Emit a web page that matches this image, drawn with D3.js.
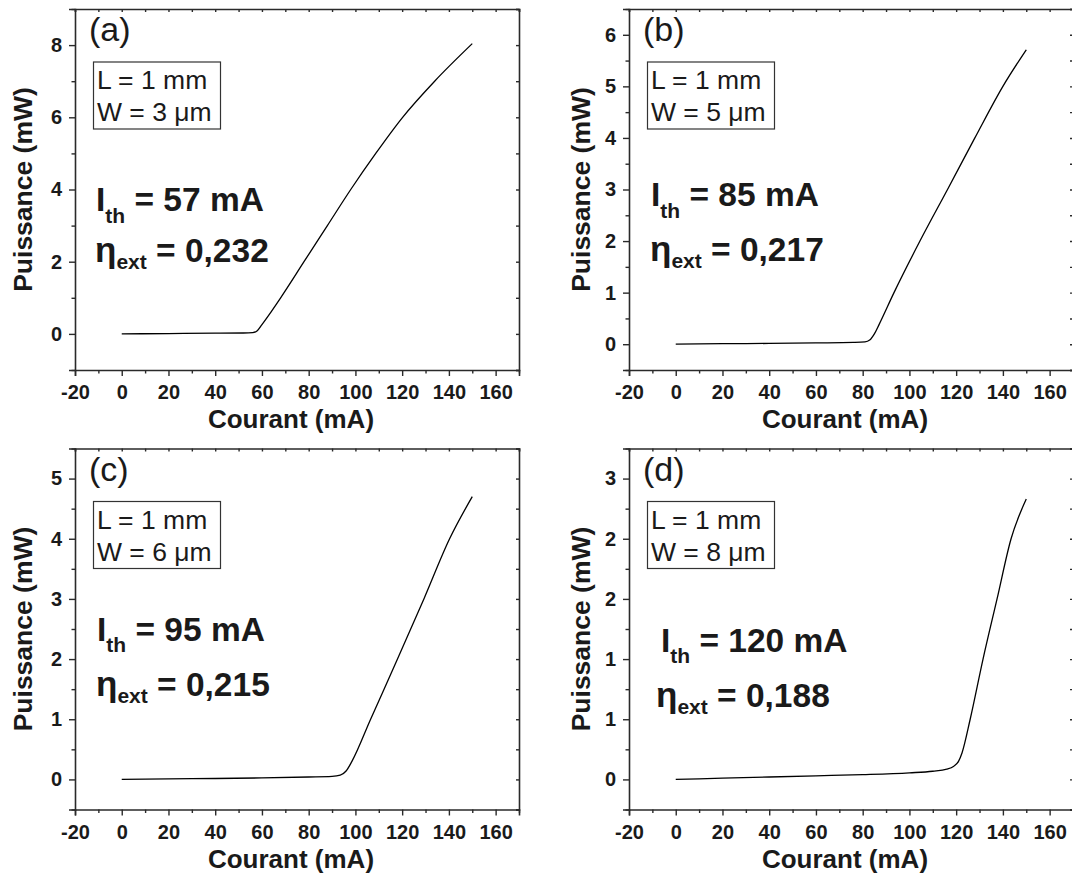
<!DOCTYPE html>
<html>
<head>
<meta charset="utf-8">
<script src="https://cdn.jsdelivr.net/npm/d3@7"></script>
<style>
  html, body { margin: 0; padding: 0; background: #fff; }
  svg { display: block; }
  text { font-family: "Liberation Sans", Arial, sans-serif; white-space: pre; }
</style>
</head>
<body>
<svg id="chart" width="1072" height="875"></svg>
<script>
// ---------------- DATA ----------------
const panelNames = ["(a)", "(b)", "(c)", "(d)"];
const boxLine1 = ["L = 1 mm", "L = 1 mm", "L = 1 mm", "L = 1 mm"];
const boxLine2 = ["W = 3 \u03BCm", "W = 5 \u03BCm", "W = 6 \u03BCm", "W = 8 \u03BCm"];
const ithText = [" = 57 mA", " = 85 mA", " = 95 mA", " = 120 mA"];
const etaText = [" = 0,232", " = 0,217", " = 0,215", " = 0,188"];

const xTickValues = [-20, 0, 20, 40, 60, 80, 100, 120, 140, 160];
const xTickLabels = ["-20", "0", "20", "40", "60", "80", "100", "120", "140", "160"];
const xDomain = [-20, 170];
const xTitle = "Courant (mA)";
const yTitle = "Puissance (mW)";

// panel (a)
const currentA = [0, 20, 40, 52, 56, 58, 60, 64, 68, 78, 88, 98, 108.7, 120.2, 133.9, 150];
const powerA   = [0, 0.01, 0.02, 0.025, 0.035, 0.09, 0.26, 0.62, 1.0, 2.0, 3.0, 4.0, 5.0, 6.0, 7.0, 8.04];
const yDomainA = [-1, 9];
const yTickValuesA = [0, 2, 4, 6, 8];
const yTickLabelsA = ["0", "2", "4", "6", "8"];

// panel (b)
const currentB = [0, 20, 40, 60, 76, 81, 83, 85, 87, 93.4, 104.5, 116.3, 128, 140, 150];
const powerB   = [0, 0.01, 0.015, 0.025, 0.035, 0.045, 0.08, 0.2, 0.38, 1.0, 2.0, 3.0, 4.0, 5.0, 5.71];
const yDomainB = [-0.5, 6.5];
const yTickValuesB = [0, 1, 2, 3, 4, 5, 6];
const yTickLabelsB = ["0", "1", "2", "3", "4", "5", "6"];

// panel (c)
const currentC = [0, 20, 40, 60, 80, 90, 93.5, 96, 98.5, 106.5, 118, 129.3, 140.3, 150];
const powerC   = [0, 0.01, 0.015, 0.025, 0.04, 0.05, 0.07, 0.14, 0.3, 1.0, 2.0, 3.0, 4.0, 4.70];
const yDomainC = [-0.5, 5.5];
const yTickValuesC = [0, 1, 2, 3, 4, 5];
const yTickLabelsC = ["0", "1", "2", "3", "4", "5"];

// panel (d)
const currentD = [0, 20, 40, 60, 80, 100, 110, 116, 119, 121, 122.5, 126, 131.5, 137.5, 143.5, 150];
const powerD   = [0, 0.01, 0.02, 0.03, 0.04, 0.055, 0.068, 0.085, 0.11, 0.15, 0.22, 0.5, 1.0, 1.5, 2.0, 2.33];
const yDomainD = [-0.25, 2.75];
const yTickValuesD = [0, 0.5, 1, 1.5, 2, 2.5];
const yTickLabelsD = ["0", "1", "1", "2", "2", "3"];

const panels = [
  { cur: currentA, pow: powerA, yd: yDomainA, yt: yTickValuesA, yl: yTickLabelsA },
  { cur: currentB, pow: powerB, yd: yDomainB, yt: yTickValuesB, yl: yTickLabelsB },
  { cur: currentC, pow: powerC, yd: yDomainC, yt: yTickValuesC, yl: yTickLabelsC },
  { cur: currentD, pow: powerD, yd: yDomainD, yt: yTickValuesD, yl: yTickLabelsD }
];

// ---------------- LAYOUT ----------------
const W = 444, H = 361;
const origins = [[75, 9], [629, 9], [75, 448.5], [629, 448.5]];
const yTitleX = [-43, -39, -43, -39];
const ithPos = [[21, 202], [22, 197], [22, 192], [32, 203]];
const etaPos = [[20, 253], [21, 252], [21, 247], [27, 258]];

const svg = d3.select("#chart");
const axisColor = "#2a2a2a";

panels.forEach((p, i) => {
  const [ox, oy] = origins[i];
  const g = svg.append("g").attr("transform", `translate(${ox},${oy})`);
  const x = d3.scaleLinear().domain(xDomain).range([0, W]);
  const y = d3.scaleLinear().domain(p.yd).range([H, 0]);

  const xMinor = d3.range(xDomain[0] + 10, xDomain[1] + 0.001, 20);
  const yStep = p.yt[1] - p.yt[0];
  const yMinor = d3.range(p.yt[0] + yStep / 2, p.yd[1] + 1e-9, yStep).concat(
    d3.range(p.yt[0] - yStep / 2, p.yd[0] - 1e-9, -yStep));

  // bottom axis
  const bx = g.append("g").attr("transform", `translate(0,${H})`)
    .call(d3.axisBottom(x).tickValues(xTickValues).tickSize(6).tickPadding(6)
      .tickFormat((d, k) => xTickLabels[k]));
  g.append("g").attr("transform", `translate(0,${H})`)
    .call(d3.axisBottom(x).tickValues(xMinor).tickSize(3.5).tickFormat(""))
    .select(".domain").remove();
  // left axis
  g.append("g")
    .call(d3.axisLeft(y).tickValues(p.yt).tickSize(6).tickPadding(7)
      .tickFormat((d, k) => p.yl[k]));
  g.append("g").call(d3.axisLeft(y).tickValues(yMinor).tickSize(3.5).tickFormat(""))
    .select(".domain").remove();
  // top axis
  g.append("g").call(d3.axisTop(x).tickValues(xTickValues.concat(xMinor)).tickSize(-3).tickFormat(""));
  // right axis
  g.append("g").attr("transform", `translate(${W},0)`)
    .call(d3.axisRight(y).tickValues(p.yt.concat(yMinor)).tickSize(-3).tickFormat(""));

  g.selectAll(".domain").attr("stroke", axisColor).attr("stroke-width", 1.6);
  g.selectAll(".tick line").attr("stroke", axisColor).attr("stroke-width", 1.4);
  g.selectAll(".tick text").attr("fill", "#1a1a1a")
    .style("font-family", "'Liberation Sans', Arial, sans-serif")
    .style("font-weight", "bold").style("font-size", "20px");
  bx.selectAll(".tick text").attr("dy", "0.85em");

  // curve
  const pts = p.cur.map((c, k) => [c, p.pow[k]]);
  g.append("path").datum(pts)
    .attr("fill", "none").attr("stroke", "#000").attr("stroke-width", 1.3)
    .attr("d", d3.line().x(d => x(d[0])).y(d => y(d[1])).curve(d3.curveMonotoneX));

  // axis titles
  g.append("text").attr("x", 216).attr("y", H + 58)
    .attr("text-anchor", "middle").attr("font-weight", "bold").attr("font-size", 26)
    .attr("fill", "#1a1a1a").text(xTitle);
  g.append("text").attr("transform", `translate(${yTitleX[i]},${H / 2}) rotate(-90)`)
    .attr("text-anchor", "middle").attr("font-weight", "bold").attr("font-size", 26.5)
    .attr("fill", "#1a1a1a").text(yTitle);

  // panel letter
  g.append("text").attr("x", 14).attr("y", 32).attr("font-size", 34)
    .attr("fill", "#1a1a1a").text(panelNames[i]);

  // parameter box
  g.append("rect").attr("x", 18.5).attr("y", 53).attr("width", 127).attr("height", 67)
    .attr("fill", "#fff").attr("stroke", "#333").attr("stroke-width", 1.2);
  g.append("text").attr("x", 22).attr("y", 80).attr("font-size", 26.5)
    .attr("fill", "#1a1a1a").text(boxLine1[i]);
  g.append("text").attr("x", 22).attr("y", 112).attr("font-size", 26.5)
    .attr("fill", "#1a1a1a").text(boxLine2[i]);

  // I_th
  const t1 = g.append("text").attr("x", ithPos[i][0]).attr("y", ithPos[i][1])
    .attr("font-weight", "bold").attr("font-size", 33.5).attr("fill", "#1a1a1a");
  t1.append("tspan").text("I");
  t1.append("tspan").attr("dy", 11.5).attr("font-size", 21).text("th");
  t1.append("tspan").attr("dy", -11.5).text(ithText[i]);

  // eta_ext
  const t2 = g.append("text").attr("x", etaPos[i][0]).attr("y", etaPos[i][1])
    .attr("font-weight", "bold").attr("font-size", 33.5).attr("fill", "#1a1a1a");
  t2.append("tspan").attr("font-size", 35).text("\u03B7");
  t2.append("tspan").attr("dy", 7).attr("font-size", 21).text("ext");
  t2.append("tspan").attr("dy", -7).text(etaText[i]);
});
</script>
</body>
</html>
